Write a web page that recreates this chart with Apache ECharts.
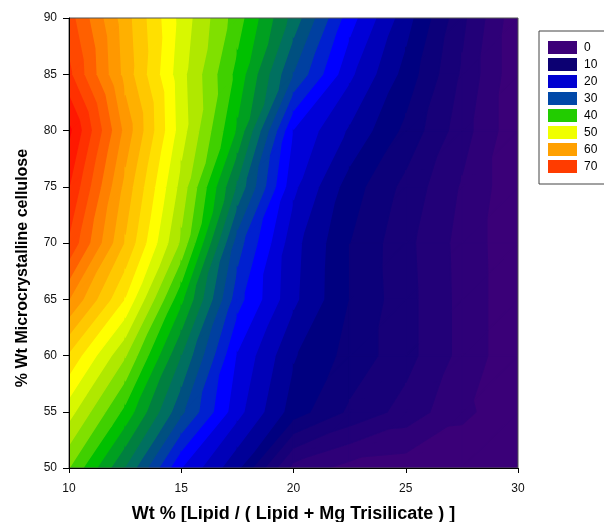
<!DOCTYPE html>
<html><head><meta charset="utf-8">
<script src="https://cdn.jsdelivr.net/npm/echarts@6/dist/echarts.min.js"></script>
<style>html,body{margin:0;padding:0;background:#fff}#c{width:604px;height:522px}</style>
</head><body><div id="c"></div>
<script>
// Grid of the response surface
const xValues = [10, 12.5, 15, 17.5, 20, 22.5, 25, 27.5, 30];
const yValues = [50, 55, 60, 65, 70, 75, 80, 85, 90];
const z50 = [45, 34.8, 22.5, 15.5, 4, 1.5, 1, 0.8, 0.5];
const z55 = [51, 41.7, 30.5, 20.8, 13.75, 9.5, 6.5, 3, 1];
const z60 = [57, 47.7, 34.9, 22.2, 15.2, 11.6, 8.4, 4.2, 0.5];
const z65 = [65, 54.8, 40.5, 25.9, 18.0, 12.4, 8.4, 4.2, 0.5];
const z70 = [72, 59.7, 46.9, 28.6, 18.3, 12.5, 8.2, 4.1, 0.5];
const z75 = [75, 61.6, 49.0, 34.4, 20.5, 13.75, 9.2, 4.7, 0.5];
const z80 = [78, 64.1, 51.1, 39.5, 22.3, 17.1, 11.8, 6.1, 0.5];
const z85 = [73, 61.5, 50.8, 41.6, 29.8, 20.5, 14, 7.1, 0.5];
const z90 = [71, 61, 51.5, 43.6, 33.9, 23.5, 16, 8.1, 0.5];
const zRows = [z50, z55, z60, z65, z70, z75, z80, z85, z90];

// Legend levels
const legendLabels = ['0', '10', '20', '30', '40', '50', '60', '70'];
const legendColors = ['#3c0078', '#0c0072', '#0000d0', '#0048a8', '#22cc00', '#f0ff00', '#ffa000', '#ff3c00'];

// Contour fill band colours (band width 2.5, starting at 0)
const bandStep = 2.5;
const bandColors = [
  '#3a0078', '#2e0078', '#220078', '#170078', '#0c007a', '#000080', '#000098', '#0000b8',
  '#0000d8', '#0000ff', '#0020d0', '#0040a0', '#005080', '#007060', '#008040', '#00a020',
  '#00c000', '#40d000', '#80e000', '#b0e800', '#d8f800', '#ffff00', '#ffe000', '#ffc800',
  '#ffb000', '#ff9800', '#ff8000', '#ff6000', '#ff4800', '#ff3000', '#ff1800', '#ff0000'
];

const FONT = 'Liberation Sans, Arial, sans-serif';

const cells = [];
for (let j = 0; j < yValues.length - 1; j++) {
  for (let i = 0; i < xValues.length - 1; i++) {
    cells.push([xValues[i], yValues[j], i, j]);
  }
}

function clip(poly, level, keepAbove) {
  const out = [];
  const n = poly.length;
  for (let k = 0; k < n; k++) {
    const a = poly[k], b = poly[(k + 1) % n];
    const ina = keepAbove ? a.v >= level : a.v <= level;
    const inb = keepAbove ? b.v >= level : b.v <= level;
    if (ina) out.push(a);
    if (ina !== inb) {
      const t = (level - a.v) / (b.v - a.v);
      out.push({ x: a.x + t * (b.x - a.x), y: a.y + t * (b.y - a.y), v: level });
    }
  }
  return out;
}

function renderItem(params, api) {
  const i = api.value(2), j = api.value(3);
  const corner = (ii, jj) => {
    const p = api.coord([xValues[ii], yValues[jj]]);
    return { x: p[0], y: p[1], v: zRows[jj][ii] };
  };
  const c00 = corner(i, j), c10 = corner(i + 1, j), c11 = corner(i + 1, j + 1), c01 = corner(i, j + 1);
  const tris = [[c00, c10, c11], [c00, c11, c01]];
  const children = [];
  tris.forEach(tri => {
    const vmin = Math.min(tri[0].v, tri[1].v, tri[2].v);
    const vmax = Math.max(tri[0].v, tri[1].v, tri[2].v);
    const b0 = Math.max(0, Math.floor(vmin / bandStep));
    const b1 = Math.min(bandColors.length - 1, Math.floor(vmax / bandStep));
    for (let b = b0; b <= b1; b++) {
      let poly = clip(tri, b * bandStep, true);
      if (poly.length < 3) continue;
      poly = clip(poly, (b + 1) * bandStep, false);
      if (poly.length < 3) continue;
      const col = bandColors[b];
      children.push({
        type: 'polygon',
        shape: { points: poly.map(p => [p.x, p.y]) },
        style: { fill: col, stroke: col, lineWidth: 1.5, lineJoin: 'round' }
      });
    }
  });
  return { type: 'group', children: children };
}

const series = [{
  type: 'custom',
  renderItem: renderItem,
  data: cells,
  encode: { x: 0, y: 1 },
  clip: true,
  silent: true,
  z: 1
}];
legendLabels.forEach((lab, k) => {
  series.push({
    type: 'line', name: lab, data: [],
    itemStyle: { color: legendColors[k] },
    lineStyle: { color: legendColors[k] }
  });
});

const chart = echarts.init(document.getElementById('c'), null, { renderer: 'canvas' });
chart.setOption({
  animation: false,
  backgroundColor: '#ffffff',
  grid: { left: 69, right: 86, top: 18, bottom: 54, show: true, borderColor: '#555', borderWidth: 1, z: 3,
          containLabel: false, outerBoundsMode: 'none' },
  legend: {
    orient: 'vertical', left: 539, top: 31,
    padding: [10, 24, 11, 9],
    itemWidth: 29, itemHeight: 13, itemGap: 4,
    icon: 'rect',
    borderColor: '#444', borderWidth: 1,
    selectedMode: false,
    data: legendLabels,
    textStyle: { fontFamily: FONT, fontSize: 12, color: '#000', padding: [0, 0, 0, 2] }
  },
  xAxis: {
    type: 'value', min: 10, max: 30, interval: 5,
    name: 'Wt % [Lipid / ( Lipid + Mg Trisilicate ) ]',
    nameLocation: 'middle', nameGap: 37,
    nameTextStyle: { fontFamily: FONT, fontSize: 18, fontWeight: 'bold', color: '#000' },
    axisLine: { show: true, lineStyle: { color: '#000', width: 1 } },
    axisTick: { show: true, length: 5, lineStyle: { color: '#000' } },
    axisLabel: { fontFamily: FONT, fontSize: 12, color: '#111', margin: 15 },
    splitLine: { show: false },
    z: 5
  },
  yAxis: {
    type: 'value', min: 50, max: 90, interval: 5,
    name: '% Wt Microcrystalline cellulose',
    nameLocation: 'middle', nameGap: 38,
    nameTextStyle: { fontFamily: FONT, fontSize: 16, fontWeight: 'bold', color: '#000', padding: [0, 50, 0, 0] },
    axisLine: { show: true, lineStyle: { color: '#000', width: 1 } },
    axisTick: { show: true, length: 6, lineStyle: { color: '#000' } },
    axisLabel: { fontFamily: FONT, fontSize: 12, color: '#111', margin: 12 },
    splitLine: { show: false },
    z: 5
  },
  series: series
});
</script>
</body></html>
